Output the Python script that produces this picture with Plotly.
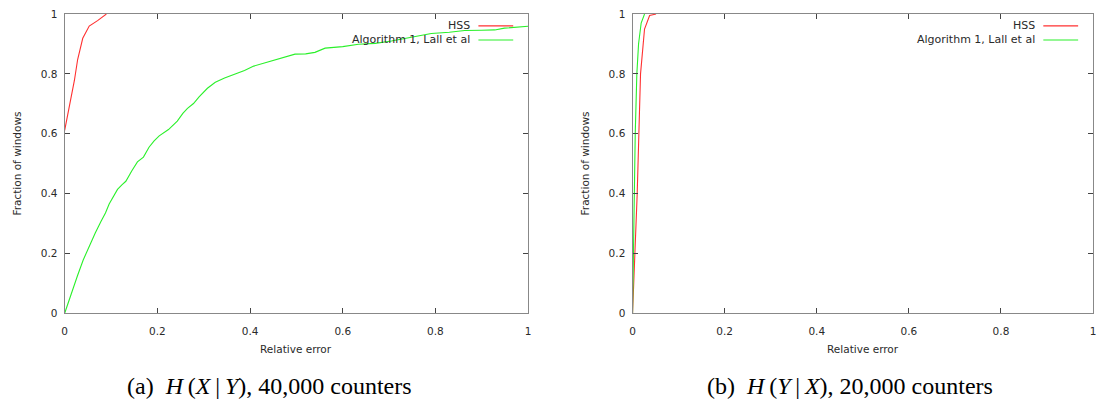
import plotly.graph_objects as go

# CDF of relative error, panel (a): H(X|Y), 40,000 counters
a_hss_x = [0, 0.0065, 0.0136, 0.021, 0.028, 0.039, 0.053, 0.071, 0.090]
a_hss_y = [0.611, 0.659, 0.713, 0.778, 0.848, 0.919, 0.960, 0.978, 1.0]
a_alg_x = [0, 0.014, 0.028, 0.040, 0.053, 0.066, 0.078, 0.088, 0.096, 0.105,
           0.114, 0.124, 0.132, 0.145, 0.157, 0.170, 0.182, 0.193, 0.204,
           0.224, 0.243, 0.255, 0.265, 0.278, 0.290, 0.308, 0.325, 0.345,
           0.368, 0.388, 0.408, 0.430, 0.454, 0.475, 0.497, 0.520, 0.540,
           0.562, 0.600, 0.634, 0.670, 0.705, 0.750, 0.791, 0.830, 0.863,
           0.900, 0.928, 0.949, 0.975, 1.0]
a_alg_y = [0, 0.066, 0.127, 0.178, 0.224, 0.268, 0.306, 0.335, 0.365, 0.391,
           0.414, 0.430, 0.441, 0.476, 0.506, 0.522, 0.555, 0.576, 0.593,
           0.614, 0.642, 0.668, 0.685, 0.701, 0.723, 0.752, 0.772, 0.786,
           0.799, 0.811, 0.826, 0.836, 0.848, 0.856, 0.866, 0.867, 0.872,
           0.886, 0.891, 0.899, 0.902, 0.910, 0.922, 0.935, 0.939, 0.945,
           0.946, 0.947, 0.953, 0.955, 0.959]

# panel (b): H(Y|X), 20,000 counters
b_hss_x = [0, 0.0058, 0.0101, 0.0137, 0.0173, 0.026, 0.037, 0.051]
b_hss_y = [0, 0.2, 0.4, 0.6, 0.8, 0.95, 0.995, 1.0]
b_alg_x = [0, 0.0017, 0.0036, 0.0058, 0.0093, 0.013, 0.0187, 0.026]
b_alg_y = [0, 0.2, 0.4, 0.6, 0.8, 0.9, 0.97, 1.0]

series_names = ["HSS", "Algorithm 1, Lall et al"]
series_colors = ["#ff3030", "#2af02a"]
tick_vals = [0, 0.2, 0.4, 0.6, 0.8, 1]
tick_text = ["0", "0.2", "0.4", "0.6", "0.8", "1"]
captions = ["(a)  <i>H</i>\u2009(<i>X</i>\u2009|\u2009<i>Y</i>), 40,000 counters",
            "(b)  <i>H</i>\u2009(<i>Y</i>\u2009|\u2009<i>X</i>), 20,000 counters"]
caption_centers_px = [268, 852]
x_title = "Relative error"
y_title = "Fraction of windows"

W, H = 1105, 409
fig = go.Figure()

panels = [
    dict(xa="x", ya="y", data=[(a_hss_x, a_hss_y), (a_alg_x, a_alg_y)]),
    dict(xa="x2", ya="y2", data=[(b_hss_x, b_hss_y), (b_alg_x, b_alg_y)]),
]
for p in panels:
    for (xs, ys), name, col in zip(p["data"], series_names, series_colors):
        fig.add_trace(go.Scatter(x=xs, y=ys, mode="lines", name=name,
                                 line=dict(color=col, width=1.1),
                                 xaxis=p["xa"], yaxis=p["ya"],
                                 showlegend=False))

x_domains = [[62 / W, 528 / W], [633 / W, 1096 / W]]
y_domain = [1 - 316.5 / H, 1 - 8.3 / H]

font_ax = dict(family="DejaVu Sans", size=10.5, color="#2a2a2a")
font_key = dict(family="DejaVu Sans", size=11, color="#2a2a2a")
axis_common = dict(range=[0, 1], tickvals=tick_vals, ticktext=tick_text,
                   ticks="inside", ticklen=5, tickcolor="#444444",
                   showline=True, linecolor="#888888", linewidth=1.3,
                   mirror="ticks", showgrid=False, zeroline=False,
                   tickfont=font_ax, fixedrange=True)

fig.update_layout(
    width=W, height=H, margin=dict(l=0, r=0, t=0, b=0),
    paper_bgcolor="white", plot_bgcolor="white", showlegend=False,
    xaxis=dict(domain=x_domains[0], anchor="y", ticklabelstandoff=8,
               **axis_common),
    yaxis=dict(domain=y_domain, anchor="x", ticklabelstandoff=4,
               **axis_common),
    xaxis2=dict(domain=x_domains[1], anchor="y2", ticklabelstandoff=8,
                **axis_common),
    yaxis2=dict(domain=y_domain, anchor="x2", ticklabelstandoff=4,
                **axis_common),
)

annotations = []
shapes = []
for i, (xd, cap, ccx) in enumerate(zip(x_domains, captions,
                                       caption_centers_px)):
    cx = (xd[0] + xd[1]) / 2
    annotations.append(dict(text=x_title, x=cx, y=1 - 353.5 / H, xref="paper",
                            yref="paper", showarrow=False, font=font_ax,
                            xanchor="center", yanchor="middle"))
    annotations.append(dict(text=y_title, x=(xd[0] * W - 48) / W,
                            y=(y_domain[0] + y_domain[1]) / 2,
                            xref="paper", yref="paper", showarrow=False,
                            textangle=-90, font=font_ax,
                            xanchor="center", yanchor="middle"))
    annotations.append(dict(text=cap, x=ccx / W, y=1 - 391 / H, xref="paper",
                            yref="paper", showarrow=False,
                            font=dict(family="Liberation Serif", size=24,
                                      color="black"),
                            xanchor="center", yanchor="middle"))
    # key in the upper right corner: label, then a short line sample
    for k, (name, col) in enumerate(zip(series_names, series_colors)):
        ypx = 20.5 + 14.5 * k
        yp = 1 - ypx / H
        x_text = xd[1] - (528 - 472) / W
        annotations.append(dict(text=name, x=x_text, y=yp, xref="paper",
                                yref="paper", showarrow=False, font=font_key,
                                xanchor="right", yanchor="middle"))
        shapes.append(dict(type="line", xref="paper", yref="paper",
                           x0=xd[1] - (528 - 478) / W,
                           x1=xd[1] - (528 - 513) / W, y0=yp, y1=yp,
                           line=dict(color=col, width=1.1)))

fig.update_layout(annotations=annotations, shapes=shapes)
fig.write_html("out.html")
